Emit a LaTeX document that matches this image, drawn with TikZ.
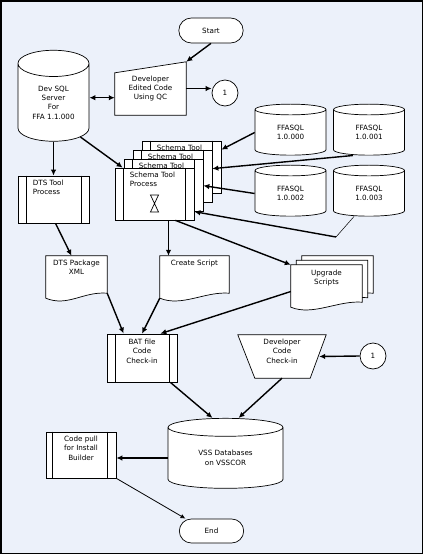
\documentclass[tikz,border=0pt]{standalone}
\usepackage{fontspec}
\setmainfont{DejaVu Sans}
\usetikzlibrary{arrows.meta,shapes.geometric,shapes.misc}
\definecolor{bgblue}{RGB}{236,241,250}
\pgfdeclarelayer{back}
\pgfsetlayers{back,main}
\tikzset{
  flowarrow/.style={-{Latex[length=6pt,width=5.5pt]}, line width=1.4pt},
  dblarrow/.style={{Latex[length=6pt,width=5.5pt]}-{Latex[length=6pt,width=5.5pt]}, line width=1.4pt},
  thinarrow/.style={-{Latex[length=5pt,width=4.5pt]}, line width=0.8pt},
  shapefill/.style={draw, fill=white, line width=0.7pt},
  innerline/.style={line width=0.7pt},
  procbox/.style={shapefill, rectangle, minimum width=71pt, minimum height=47pt},
  dbcyl/.style={shapefill, cylinder, shape border rotate=90, align=center, minimum width=71pt, inner sep=0pt},
  termbox/.style={shapefill, rounded rectangle, minimum width=71pt, minimum height=25pt},
  connbox/.style={shapefill, circle, minimum size=26pt, inner sep=0pt},
  shapebox/.style={rectangle, align=center, inner sep=0pt},
  boxtext/.style={align=center, inner sep=0pt}
}
% document outline drawn round an empty node
\newcommand\docshape[1]{\draw[shapefill] (#1.north west) -- (#1.north east) -- (#1.south east)
  .. controls +(-24,-2) and +(22,9) .. ([shift={(0,5)}]#1.south west) -- cycle;}
\begin{document}
\begin{tikzpicture}[x=1pt, y=-1pt, every node/.style={font=\fontsize{7.2pt}{9.4pt}\selectfont}]
	\useasboundingbox (0,0) rectangle (423,554);
	\begin{pgfonlayer}{back}
		\draw[fill=bgblue, line width=1.5pt] (0.75,0.75) rectangle (422.25,553.25);
	\end{pgfonlayer}

	% top row
	\node[termbox] (start) at (211,30.5) {Start};
	\node[dbcyl, minimum height=91pt, aspect=0.62] (devsql) at (53.5,102.5) {Dev SQL\\Server\\For\\FFA 1.1.000};
	\node[shapebox, minimum width=71pt, minimum height=53pt] (devedit) at (150.5,88.5) {Developer\\Edited Code\\Using QC};
	\node[connbox] (circ1) at (225,93) {1};

	% DTS tool
	\node[procbox] (dts) at (53.5,199.5) {};
	\draw[innerline] ([xshift=9pt]dts.north west) -- ([xshift=9pt]dts.south west)
		([xshift=-8pt]dts.north east) -- ([xshift=-8pt]dts.south east);
	\node[boxtext, align=left, below right] (dtstext) at ([shift={(15,4)}]dts.north west) {DTS Tool\\Process};

	% schema tool stack
	\node[procbox, minimum width=79pt, minimum height=52pt] (st4) at (181.5,167) {};
	\draw[innerline] ([xshift=9pt]st4.north west) -- ([xshift=9pt]st4.south west)
		([xshift=-9pt]st4.north east) -- ([xshift=-9pt]st4.south east);
	\node[boxtext, below right] (st4text) at ([shift={(15,4)}]st4.north west) {Schema Tool};
	\node[procbox, minimum width=79pt, minimum height=52pt] (st3) at (172.5,176) {};
	\draw[innerline] ([xshift=9pt]st3.north west) -- ([xshift=9pt]st3.south west)
		([xshift=-9pt]st3.north east) -- ([xshift=-9pt]st3.south east);
	\node[boxtext, below right] (st3text) at ([shift={(15,4)}]st3.north west) {Schema Tool};
	\node[procbox, minimum width=79pt, minimum height=52pt] (st2) at (163.5,185) {};
	\draw[innerline] ([xshift=9pt]st2.north west) -- ([xshift=9pt]st2.south west)
		([xshift=-9pt]st2.north east) -- ([xshift=-9pt]st2.south east);
	\node[boxtext, below right] (st2text) at ([shift={(15,4)}]st2.north west) {Schema Tool};
	\node[procbox, minimum width=79pt, minimum height=52pt] (st1) at (154.5,194) {};
	\draw[innerline] ([xshift=9pt]st1.north west) -- ([xshift=9pt]st1.south west)
		([xshift=-9pt]st1.north east) -- ([xshift=-9pt]st1.south east);
	\node[boxtext, align=left, below right] (st1text) at ([shift={(15,4)}]st1.north west) {Schema Tool\\Process};
	\draw[innerline] ([shift={(-4,1)}]st1.center) -- ++(8,0) -- ++(-8,17) -- ++(8,0) -- cycle;

	% FFASQL databases
	\node[dbcyl, minimum height=51pt, aspect=0.39] (ffa0) at (290.5,132.5) {FFASQL\\1.0.000};
	\node[dbcyl, minimum height=51pt, aspect=0.39] (ffa1) at (369,132.5) {FFASQL\\1.0.001};
	\node[dbcyl, minimum height=51pt, aspect=0.39] (ffa2) at (290.5,193.5) {FFASQL\\1.0.002};
	\node[dbcyl, minimum height=51pt, aspect=0.39] (ffa3) at (369,193.5) {FFASQL\\1.0.003};

	% documents
	\node[shapebox, minimum width=61pt, minimum height=37pt] (dtsx) at (76.5,274.5) {};
	\node[boxtext, below] (dtsxtext) at ([shift={(0,4)}]dtsx.north) {DTS Package\\XML};
	\node[shapebox, minimum width=69pt, minimum height=37pt] (creat) at (194.5,274.5) {};
	\node[boxtext, below] (creattext) at ([shift={(0,4)}]creat.north) {Create Script};
	\node[shapebox, minimum width=71pt, minimum height=37pt] (upg3) at (337.5,274.5) {};
	\node[shapebox, minimum width=71pt, minimum height=37pt] (upg2) at (332,279) {};
	\node[shapebox, minimum width=71pt, minimum height=37pt] (upg1) at (326.5,283.5) {};
	\node[boxtext, below] (upgtext) at ([shift={(0,5)}]upg1.north) {Upgrade\\Scripts};

	% check-in
	\node[procbox, minimum width=70pt, minimum height=48pt] (bat) at (142,358) {};
	\draw[innerline] ([xshift=9pt]bat.north west) -- ([xshift=9pt]bat.south west)
		([xshift=-8pt]bat.north east) -- ([xshift=-8pt]bat.south east);
	\node[boxtext, below] (battext) at ([shift={(0,5)}]bat.north) {BAT file\\Code\\Check-in};
	\node[shapebox, minimum width=88pt, minimum height=43pt] (dcc) at (282,356.5) {};
	\node[boxtext, below] (dcctext) at ([shift={(0,4)}]dcc.north) {Developer\\Code\\Check-in};
	\node[connbox] (circ2) at (373,356) {1};

	% bottom
	\node[dbcyl, minimum width=115pt, minimum height=70pt, aspect=0.33] (vss) at (225.5,458) {VSS Databases\\on VSSCOR};
	\node[procbox, minimum width=70pt, minimum height=46pt] (cpull) at (81,455) {};
	\draw[innerline] ([xshift=7pt]cpull.north west) -- ([xshift=7pt]cpull.south west)
		([xshift=-9pt]cpull.north east) -- ([xshift=-9pt]cpull.south east);
	\node[boxtext, below] (cpulltext) at ([shift={(0,4)}]cpull.north) {Code pull\\for Install\\Builder};
	\node[termbox, minimum height=24pt] (finish) at (211.5,531) {End};

	% outlines of the drawn shapes
	\begin{pgfonlayer}{back}
		\draw[shapefill] (devedit.south west) -- ([shift={(0,11)}]devedit.north west) -- (devedit.north east) -- (devedit.south east) -- cycle;
		\docshape{dtsx}
		\docshape{creat}
		\docshape{upg3}
		\docshape{upg2}
		\docshape{upg1}
		\draw[shapefill] (dcc.north west) -- (dcc.north east) -- ([xshift=-16pt]dcc.south east) -- ([xshift=17pt]dcc.south west) -- cycle;
	\end{pgfonlayer}

	% connectors
	\draw[flowarrow] (start.south) -- (devedit.north east);
	\coordinate (dbl) at ([shift={(0,-4.8)}]devsql.east);
	\draw[dblarrow] (dbl) -- (dbl -| devedit.west);
	\draw[flowarrow] (devedit.east) -- (devedit.east -| circ1.west);
	\draw[flowarrow] (devsql.south) -- (dts.north);
	\draw[flowarrow] (devsql.-52) -- ([xshift=8pt]st1.north west);
	\draw[flowarrow] (ffa0.west) -- ([shift={(0,9)}]st4.north east);
	\draw[flowarrow] ([xshift=-16pt]ffa1.south) -- ([shift={(0,19)}]st3.north east);
	\draw[flowarrow] (ffa2.west) -- ([shift={(0,27)}]st2.north east);
	\coordinate (ffa3bend) at (336,237);
	\draw[line width=0.5pt] ([xshift=-15pt]ffa3.south) -- (ffa3bend);
	\draw[flowarrow] (ffa3bend) -- ([shift={(0,44)}]st1.north east);
	\coordinate (stout) at ([xshift=14pt]st1.south);
	\draw[flowarrow] (stout) -- (stout |- creat.north);
	\draw[flowarrow] ([xshift=-19pt]st1.south east) -- (upg1.north west);
	\draw[flowarrow] ([xshift=2pt]dts.south) -- ([xshift=-5pt]dtsx.north);
	\draw[flowarrow] (dtsx.south east) -- ([xshift=17pt]bat.north west);
	\draw[flowarrow] ([shift={(0,5)}]creat.south west) -- (bat.north);
	\draw[flowarrow] ([shift={(0,8)}]upg1.west) -- ([xshift=-17pt]bat.north east);
	\draw[flowarrow] (circ2.west) -- ([xshift=-7pt]dcc.east);
	\draw[flowarrow] ([xshift=-7pt]bat.south east) -- ([xshift=-13pt]vss.north);
	\draw[flowarrow] (dcc.south) -- ([xshift=13pt]vss.north);
	\draw[flowarrow] (vss.west) -- (vss.west -| cpull.east);
	\draw[thinarrow] (cpull.south east) -- ([xshift=-26pt]finish.north);
\end{tikzpicture}
\end{document}
